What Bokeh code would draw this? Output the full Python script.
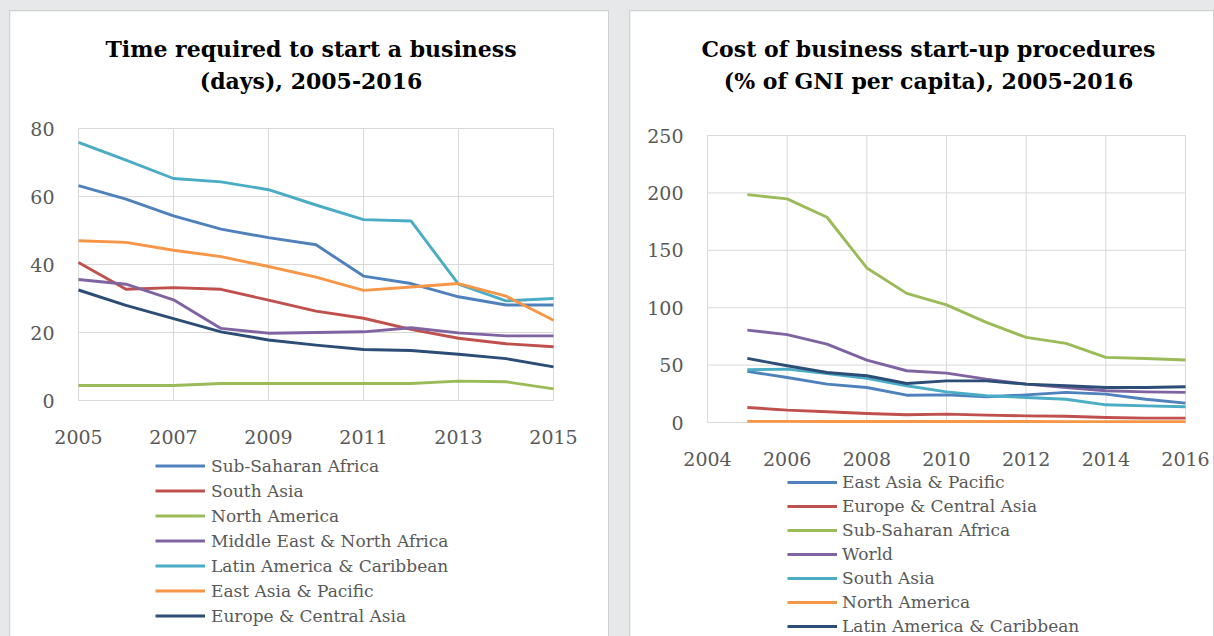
from bokeh.plotting import figure
from bokeh.models import FixedTicker, Legend, LegendItem, Label
from bokeh.layouts import row
from bokeh.embed import file_html
from bokeh.resources import INLINE

# ---------------- data ----------------
years_time = [2005, 2006, 2007, 2008, 2009, 2010, 2011, 2012, 2013, 2014, 2015]
time_series = ["Sub-Saharan Africa", "South Asia", "North America",
               "Middle East & North Africa", "Latin America & Caribbean",
               "East Asia & Pacific", "Europe & Central Asia"]
ssa_time = [63.2, 59.2, 54.3, 50.4, 47.9, 45.8, 36.6, 34.4, 30.5, 28.1, 28.1]
south_asia_time = [40.6, 32.7, 33.2, 32.7, 29.5, 26.3, 24.2, 20.9, 18.3, 16.7, 15.8]
north_america_time = [4.4, 4.4, 4.4, 5.0, 5.0, 5.0, 5.0, 5.0, 5.7, 5.5, 3.4]
mena_time = [35.6, 34.2, 29.6, 21.2, 19.8, 20.0, 20.2, 21.4, 19.9, 19.0, 19.0]
latam_time = [75.9, 70.7, 65.3, 64.3, 62.0, 57.5, 53.2, 52.8, 34.2, 29.3, 30.0]
east_asia_time = [47.0, 46.5, 44.2, 42.3, 39.4, 36.3, 32.4, 33.4, 34.4, 30.7, 23.6]
europe_time = [32.5, 28.0, 24.1, 20.2, 17.8, 16.3, 15.0, 14.7, 13.6, 12.3, 9.9]
time_x_ticks = [2005, 2007, 2009, 2011, 2013, 2015]
time_y_ticks = [0, 20, 40, 60, 80]
time_title = ["Time required to start a business", "(days), 2005-2016"]

years_cost = [2005, 2006, 2007, 2008, 2009, 2010, 2011, 2012, 2013, 2014, 2015, 2016]
cost_series = ["East Asia & Pacific", "Europe & Central Asia", "Sub-Saharan Africa",
               "World", "South Asia", "North America", "Latin America & Caribbean"]
east_asia_cost = [44.5, 39.2, 33.4, 30.5, 23.8, 24.1, 22.4, 24.1, 26.2, 24.7, 20.3, 16.9]
europe_cost = [13.1, 10.8, 9.3, 7.8, 6.7, 7.3, 6.4, 5.8, 5.5, 4.4, 3.8, 3.8]
ssa_cost = [198.5, 194.8, 178.8, 134.6, 112.5, 102.5, 87.2, 74.1, 68.9, 56.7, 55.8, 54.4]
world_cost = [80.5, 76.5, 68.3, 54.4, 45.1, 43.0, 37.8, 33.4, 30.5, 27.6, 26.7, 26.2]
south_asia_cost = [45.9, 46.5, 42.7, 38.4, 32.0, 26.7, 23.3, 21.8, 20.3, 15.4, 14.5, 13.7]
north_america_cost = [1.0, 1.0, 0.9, 0.9, 0.9, 0.9, 0.9, 0.9, 0.8, 0.8, 0.8, 0.8]
latam_cost = [55.8, 49.4, 43.6, 40.7, 34.0, 36.3, 36.3, 33.4, 32.0, 30.5, 30.5, 31.1]
cost_x_ticks = [2004, 2006, 2008, 2010, 2012, 2014, 2016]
cost_y_ticks = [0, 50, 100, 150, 200, 250]
cost_title = ["Cost of business start-up procedures", "(% of GNI per capita), 2005-2016"]

palette = ["#4F81BD", "#C0504D", "#9BBB59", "#8064A2", "#4BACC6", "#F79646", "#2C4D75"]

FONT = "DejaVu Serif"
GRID = "#D9D9D9"
TICK_COLOR = "#595959"
PANEL_TOP = 11       # top of the white panels (page px)
PANEL_H = 625        # panels run to the bottom of the window


def build(canvas_left, width, gap_left, box, xticks, yticks, xs, series, names,
          legend_pos, row_h, leg_standoff, title_lines, title_cx, title_baselines):
    """The whole canvas is the frame; box = (left, right, top, bottom) page px of
    the plotting area spanning xticks[0]..xticks[-1] and yticks[0]..yticks[-1]."""
    bl, br, bt, bb = box
    x0, x1 = xticks[0], xticks[-1]
    y0, y1 = yticks[0], yticks[-1]
    ppx = (br - bl) / (x1 - x0)
    ppy = (bb - bt) / (y1 - y0)
    canvas_right = canvas_left + width
    canvas_bottom = PANEL_TOP + PANEL_H
    xr = (x0 - (bl - canvas_left) / ppx, x1 + (canvas_right - br) / ppx)
    yr = (y0 - (canvas_bottom - bb) / ppy, y1 + (bt - PANEL_TOP) / ppy)

    p = figure(width=width, height=PANEL_H, x_range=xr, y_range=yr,
               output_backend="svg", toolbar_location=None,
               min_border_left=0, min_border_right=0, min_border_top=0,
               min_border_bottom=0)
    p.title.visible = False
    p.margin = (PANEL_TOP, 0, 0, gap_left)
    p.xaxis.ticker = FixedTicker(ticks=xticks)
    p.yaxis.ticker = FixedTicker(ticks=yticks)
    p.xaxis.fixed_location = y0
    p.yaxis.fixed_location = x0
    for ax in (p.xaxis[0], p.yaxis[0]):
        ax.axis_line_color = None
        ax.major_tick_line_color = None
        ax.minor_tick_line_color = None
        ax.major_tick_in = 0
        ax.major_tick_out = 0
        ax.minor_tick_in = 0
        ax.minor_tick_out = 0
        ax.major_label_text_font = FONT
        ax.major_label_text_font_size = "19px"
        ax.major_label_text_color = TICK_COLOR
    p.xaxis.major_label_standoff = 29
    p.yaxis.major_label_standoff = 24
    p.xgrid.visible = False
    p.ygrid.visible = False
    p.outline_line_color = None
    p.background_fill_color = "white"
    p.border_fill_color = "white"
    p.styles = {"outline": "1px solid #CFD0D2"}

    # grid lines limited to the plotting box
    n, m = len(xticks), len(yticks)
    p.segment(x0=xticks, y0=[y0] * n, x1=xticks, y1=[y1] * n,
              line_color=GRID, line_width=1)
    p.segment(x0=[x0] * m, y0=yticks, x1=[x1] * m, y1=yticks,
              line_color=GRID, line_width=1)

    items = []
    for vals, name, col in zip(series, names, palette):
        r = p.line(xs, vals, line_color=col, line_width=2.9, line_join="round")
        items.append(LegendItem(label=name, renderers=[r]))
    leg_left, leg_top = legend_pos
    leg_bottom = leg_top + row_h * len(names)
    leg = Legend(items=items,
                 location=(leg_left - canvas_left, canvas_bottom - leg_bottom),
                 orientation="vertical",
                 glyph_width=50, glyph_height=row_h, label_height=row_h,
                 spacing=0, padding=0, margin=0, label_standoff=leg_standoff,
                 border_line_color=None, background_fill_alpha=0,
                 label_text_font=FONT, label_text_font_size="17px",
                 label_text_color=TICK_COLOR)
    p.add_layout(leg)

    # two-line centred title
    cx = xr[0] + (title_cx - canvas_left) / ppx
    for txt, base in zip(title_lines, title_baselines):
        p.add_layout(Label(x=cx, y=y0 + (bb - base) / ppy, text=txt,
                           text_font=FONT, text_font_style="bold",
                           text_font_size="22px", text_color="black",
                           text_align="center", text_baseline="alphabetic"))
    return p


# ---------------- left chart ----------------
p1 = build(10, 598, 10, (78, 553, 128, 400), time_x_ticks, time_y_ticks,
           years_time,
           [ssa_time, south_asia_time, north_america_time, mena_time,
            latam_time, east_asia_time, europe_time],
           time_series, (155, 453), 25, 6, time_title, 310.5, [48, 80])

# ---------------- right chart ----------------
p2 = build(630, 583, 22, (707, 1185, 135, 422), cost_x_ticks, cost_y_ticks,
           years_cost,
           [east_asia_cost, europe_cost, ssa_cost, world_cost,
            south_asia_cost, north_america_cost, latam_cost],
           cost_series, (787, 470), 24, 5, cost_title, 928, [48, 80])

layout = row(p1, p2)

html = file_html(layout, INLINE)
html = html.replace("<head>",
                    "<head><style>html,body{background:#E7E8E9;overflow:hidden;}</style>", 1)
open("out.html", "w").write(html)
